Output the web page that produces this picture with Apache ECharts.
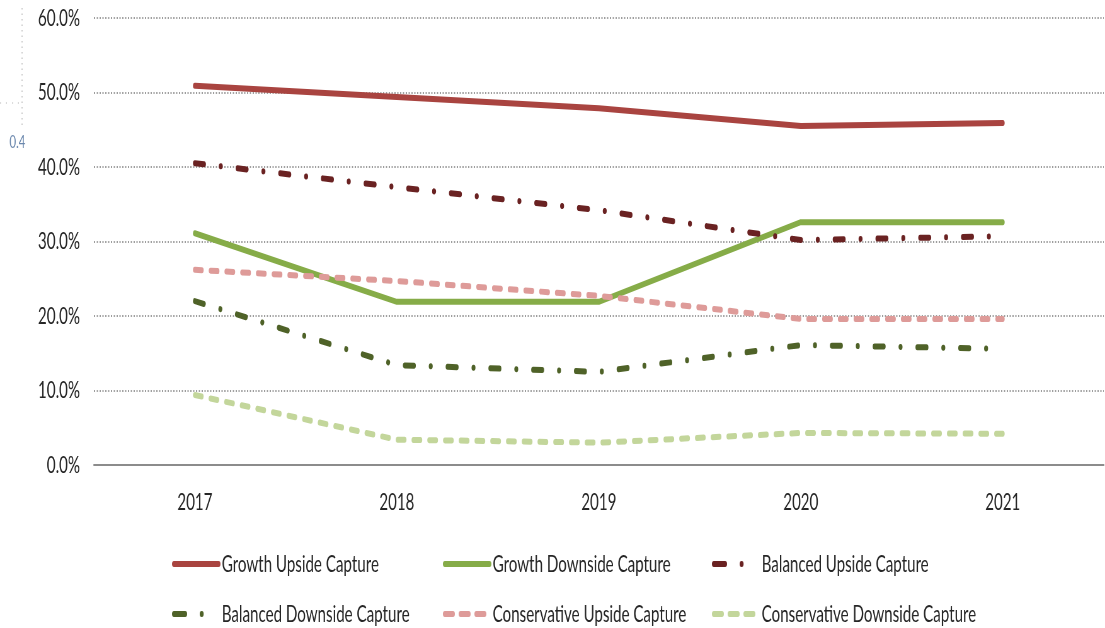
<!DOCTYPE html>
<html><head><meta charset="utf-8">
<script src="https://cdn.jsdelivr.net/npm/echarts@6/dist/echarts.min.js"></script>
<style>
html,body{margin:0;padding:0;background:#fff;overflow:hidden;width:1105px;height:628px}
#c{width:1754px;height:628px;transform:scaleX(0.63);transform-origin:0 0}
</style>
</head><body><div id="c"></div>
<script>
var years = ['2017','2018','2019','2020','2021'];
var growthUpside = [50.9, 49.4, 47.9, 45.5, 45.9];
var growthDownside = [31.1, 21.9, 21.9, 32.6, 32.6];
var balancedUpside = [40.5, 37.3, 34.2, 30.2, 30.7];
var balancedDownside = [22.0, 13.4, 12.5, 16.1, 15.6];
var conservativeUpside = [26.2, 24.7, 22.7, 19.6, 19.6];
var conservativeDownside = [9.4, 3.4, 3.0, 4.3, 4.2];
var seriesNames = ['Growth Upside Capture','Growth Downside Capture','Balanced Upside Capture','Balanced Downside Capture','Conservative Upside Capture','Conservative Downside Capture'];

// The reference image is horizontally compressed; the chart is laid out wide and squeezed by CSS (scaleX 0.63).
var FONT = 'Lato, "Open Sans", sans-serif';
var TXT = '#262626';
var W = 6;
var dashDot = [14.6, 26.5, 0.3, 26.5];
var dashDotLegend = [18, 26, 0.3, 100];
var dash = [11, 14];

var styles = [
  { color: '#A94440', type: 'solid', legendType: 'solid' },
  { color: '#86AC48', type: 'solid', legendType: 'solid' },
  { color: '#6A2222', type: dashDot, legendType: dashDotLegend },
  { color: '#4F6228', type: dashDot, legendType: dashDotLegend },
  { color: '#DE9B99', type: dash, legendType: [13, 12] },
  { color: '#C3D69B', type: dash, legendType: [13, 12] }
];
var values = [growthUpside, growthDownside, balancedUpside, balancedDownside, conservativeUpside, conservativeDownside];

var series = seriesNames.map(function(n, i){
  return {
    name: n, type: 'line', data: values[i], symbol: 'none', silent: true,
    lineStyle: { color: styles[i].color, width: W, type: styles[i].type, cap: 'round', join: 'round' },
    itemStyle: { color: styles[i].color },
    emphasis: { disabled: true }
  };
});

var legendPos = [[273,552],[703,552],[1130,552],[273,602],[703,602],[1130,602]];
var legends = seriesNames.map(function(n, i){
  return {
    data: [n], left: legendPos[i][0], top: legendPos[i][1], padding: 0,
    itemWidth: 71, itemHeight: 14, itemGap: 0, selectedMode: false,
    itemStyle: { opacity: 0 },
    lineStyle: { width: W, color: styles[i].color, type: styles[i].legendType, cap: 'round' },
    textStyle: { fontFamily: FONT, fontSize: 24, color: TXT, padding: [0,0,0,0] }
  };
});

var chart = echarts.init(document.getElementById('c'), null, {renderer: 'canvas'});
chart.setOption({
  animation: false,
  backgroundColor: '#fff',
  grid: { left: 149, right: 2, top: 18, bottom: 163, containLabel: false },
  legend: legends,
  xAxis: {
    type: 'category', data: years, boundaryGap: true,
    axisLine: { show: true, lineStyle: { color: '#8c8c8c', width: 2 } },
    axisTick: { show: false },
    axisLabel: { fontFamily: FONT, fontSize: 24, color: TXT, margin: 25 }
  },
  yAxis: {
    type: 'value', min: 0, max: 60, interval: 10,
    axisLine: { show: false }, axisTick: { show: false },
    axisLabel: { fontFamily: FONT, fontSize: 24, color: TXT, margin: 22,
      formatter: function(v){ return v.toFixed(1) + '%'; } },
    splitLine: { show: true, lineStyle: { color: '#7f7f7f', width: 1.5, type: [2, 2.5] } }
  },
  graphic: [
    { type: 'line', shape: { x1: 35, y1: 8, x2: 35, y2: 128 }, style: { stroke: '#b0b0b0', lineWidth: 1.2, lineDash: [1.5, 4] }, silent: true },
    { type: 'line', shape: { x1: 0, y1: 103, x2: 35, y2: 103 }, style: { stroke: '#b0b0b0', lineWidth: 1.2, lineDash: [1.5, 8] }, silent: true },
    { type: 'text', left: 15, top: 133, style: { text: '0.4', fill: '#6a87ad', font: '18px ' + FONT }, silent: true }
  ],
  series: series
});
</script>
</body></html>
